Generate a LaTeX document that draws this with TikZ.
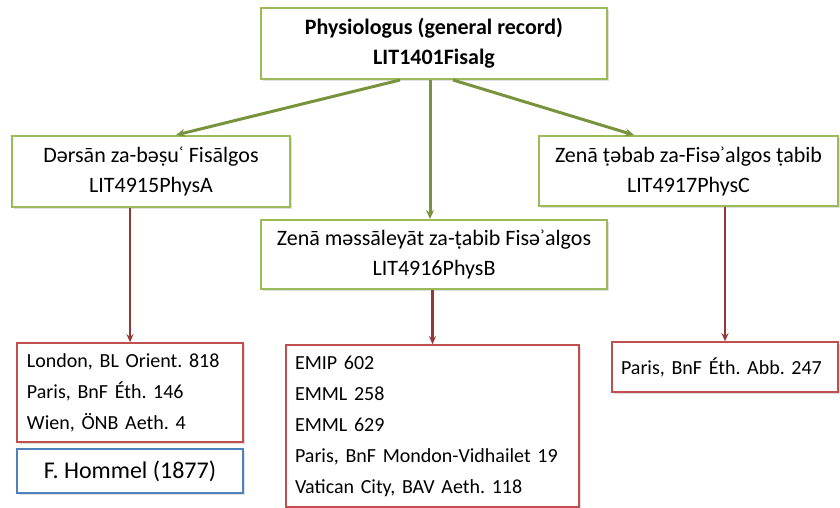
\documentclass[tikz,border=0pt]{standalone}
\usepackage{fontspec}
\setmainfont{Carlito}
\frenchspacing
\usetikzlibrary{positioning,shadows,arrows.meta}

\definecolor{boxgreen}{RGB}{155,187,89}
\definecolor{arrowgreen}{RGB}{119,147,60}
\definecolor{boxred}{RGB}{192,80,77}
\definecolor{arrowred}{RGB}{149,55,53}
\definecolor{boxblue}{RGB}{79,129,189}

\tikzset{
  work/.style={draw=boxgreen,line width=2pt,fill=white,align=center,
    inner sep=0pt,font=\fontsize{22}{30}\selectfont,
    drop shadow={opacity=0.25,shadow xshift=1.5pt,shadow yshift=-1.5pt}},
  witness/.style={draw=boxred,line width=1.6pt,fill=white,align=left,
    inner sep=0pt,font=\fontsize{20}{31}\selectfont,
    drop shadow={opacity=0.25,shadow xshift=1.5pt,shadow yshift=-1.5pt}},
  edition/.style={witness,draw=boxblue,align=center,font=\fontsize{24}{30}\selectfont},
  greenarrow/.style={color=arrowgreen,line width=3pt,-{Stealth[length=9pt,width=8pt]}},
  redarrow/.style={color=arrowred,line width=2.5pt,-{Stealth[length=8pt,width=7pt]}}
}

\begin{document}
\begin{tikzpicture}[x=1pt,y=-1pt]
   \useasboundingbox (0,0) rectangle (840,507);

   \node[work,minimum width=346pt,minimum height=71pt] (gen) at (434,43.5)
     {\textbf{Physiologus (general record)}\\\textbf{LIT1401Fisalg}};
   \node[work,minimum width=278pt,minimum height=71pt] (physA) at (151,171.5)
     {Dərsān za-bəṣuʿ Fisālgos\\LIT4915PhysA};
   \node[work,minimum width=299pt,minimum height=70pt] (physC) at (688.5,171)
     {Zenā ṭəbab za-Fisəʾalgos ṭabib\\LIT4917PhysC};
   \node[work,minimum width=346pt,minimum height=69pt] (physB) at (434,254.5)
     {Zenā məssāleyāt za-ṭabib Fisəʾalgos\\LIT4916PhysB};

   \node[witness,minimum width=226pt,minimum height=99pt,text width=206pt] (msA) at (130,392.5)
     {London, BL Orient. 818\\Paris, BnF Éth. 146\\Wien, ÖNB Aeth. 4};
   \node[edition,minimum width=226pt,minimum height=44pt] (hommel) at (130,471)
     {F. Hommel (1877)};
   \node[witness,minimum width=293pt,minimum height=162pt,text width=275pt] (msB) at (432.5,426)
     {EMIP 602\\EMML 258\\EMML 629\\Paris, BnF Mondon-Vidhailet 19\\Vatican City, BAV Aeth. 118};
   \node[witness,minimum width=226pt,minimum height=50pt,text width=208pt] (msC) at (725,367)
     {Paris, BnF Éth. Abb. 247};

   \path[greenarrow]
     ([xshift=-34pt]gen.south) edge ([xshift=25pt]physA.north)
     ([xshift=-4pt]gen.south) edge ([xshift=-4pt]physB.north)
     ([xshift=19pt]gen.south) edge ([xshift=-54.5pt]physC.north);

   \path[redarrow]
     (msA.north |- physA.south) edge (msA.north)
     (msB.north |- physB.south) edge (msB.north)
     (msC.north |- physC.south) edge (msC.north);
\end{tikzpicture}
\end{document}
